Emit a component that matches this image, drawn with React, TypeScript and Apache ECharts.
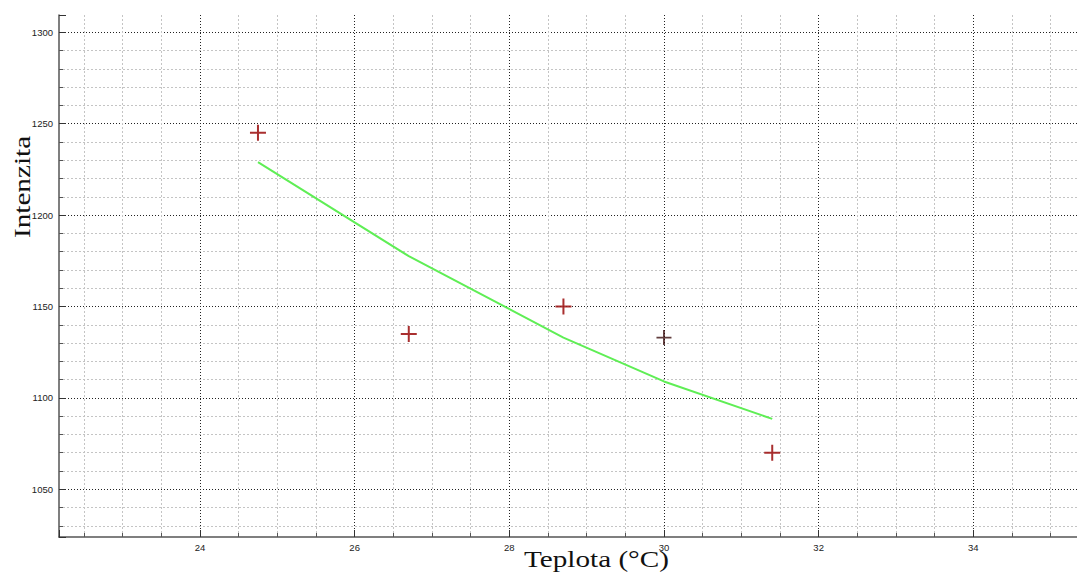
import React, { useEffect, useRef } from "react";
import * as echarts from "echarts";

// Measured intensity vs. temperature
const measuredTemp = [24.75, 26.7, 28.7, 31.4];
const measuredIntensity = [1245, 1135, 1150, 1070];

// Single reference reading
const referenceTemp = [30.0];
const referenceIntensity = [1133];

// Fitted trend curve
const fitTemp = [24.75, 26.7, 28.7, 30.0, 31.4];
const fitIntensity = [1229, 1177.5, 1133, 1109, 1088.5];

// Axis extents and tick spacing
const xRange = [22.177, 35.341];
const yRange = [1023.9, 1309.46];
const xMajorStep = 2;
const yMajorStep = 50;

const xTitle = "Teplota (°C)";
const yTitle = "Intenzita";

const CROSS =
  "path://M7,0 L9,0 L9,7 L16,7 L16,9 L9,9 L9,16 L7,16 L7,9 L0,9 L0,7 L7,7 Z";

export default function App() {
  const ref = useRef<HTMLDivElement>(null);

  useEffect(() => {
    if (!ref.current) return;
    const chart = echarts.init(ref.current, null, { renderer: "svg" });

    const tickFont = {
      fontFamily: "Liberation Sans",
      fontSize: 9.5,
      color: "#222",
    };

    const axisCommon = (step: number, minorSplit: number) => ({
      minInterval: step,
      maxInterval: step,
      axisLine: { show: true, lineStyle: { color: "#555", width: 1.5 } },
      axisTick: {
        show: true,
        inside: true,
        length: 7,
        lineStyle: { color: "#333", width: 1 },
      },
      minorTick: {
        show: true,
        splitNumber: minorSplit,
        length: 4,
        lineStyle: { color: "#555", width: 1 },
      },
      splitLine: {
        show: true,
        showMinLine: false,
        showMaxLine: false,
        lineStyle: { color: "#222", width: 1, type: [1, 2] },
      },
      minorSplitLine: {
        show: true,
        lineStyle: { color: "#c4c4c4", width: 1, type: [2, 2] },
      },
    });

    const onStep = (step: number) => (v: number) =>
      Math.abs(v / step - Math.round(v / step)) < 1e-6 ? String(v) : "";

    // Axis titles are drawn in a wide serif face
    const titleFont = '23px "Liberation Serif"';
    const titleStretch = 1.27;

    chart.setOption({
      animation: false,
      backgroundColor: "#ffffff",
      grid: { left: 59, right: 0, top: 15, bottom: 35, containLabel: false },
      xAxis: {
        type: "value",
        min: xRange[0],
        max: xRange[1],
        ...axisCommon(xMajorStep, 4),
        axisLabel: {
          ...tickFont,
          margin: 5,
          showMinLabel: false,
          showMaxLabel: false,
          formatter: onStep(xMajorStep),
        },
      },
      yAxis: {
        type: "value",
        min: yRange[0],
        max: yRange[1],
        ...axisCommon(yMajorStep, 5),
        axisLabel: {
          ...tickFont,
          margin: 6,
          showMinLabel: false,
          showMaxLabel: false,
          formatter: onStep(yMajorStep),
        },
      },
      graphic: [
        {
          type: "text",
          x: 524,
          y: 548,
          scaleX: titleStretch,
          style: {
            text: xTitle,
            font: titleFont,
            fill: "#111",
            textVerticalAlign: "top",
          },
        },
        {
          type: "text",
          x: 11,
          y: 238,
          rotation: Math.PI / 2,
          scaleX: titleStretch,
          style: {
            text: yTitle,
            font: titleFont,
            fill: "#111",
            textVerticalAlign: "top",
          },
        },
      ],
      series: [
        {
          type: "line",
          data: fitTemp.map((t, i) => [t, fitIntensity[i]]),
          showSymbol: false,
          symbol: "none",
          lineStyle: { color: "#5fee55", width: 2 },
          z: 3,
        },
        {
          type: "scatter",
          data: measuredTemp.map((t, i) => [t, measuredIntensity[i]]),
          symbol: CROSS,
          symbolSize: 16,
          itemStyle: { color: "#a01818", opacity: 0.9 },
          z: 4,
        },
        {
          type: "scatter",
          data: referenceTemp.map((t, i) => [t, referenceIntensity[i]]),
          symbol: CROSS,
          symbolSize: 15,
          itemStyle: { color: "#3a0c0c" },
          z: 4,
        },
      ],
    });

    return () => chart.dispose();
  }, []);

  return (
    <div
      ref={ref}
      style={{
        position: "fixed",
        left: 0,
        top: 0,
        width: 1077,
        height: 572,
        background: "#fff",
      }}
    />
  );
}
